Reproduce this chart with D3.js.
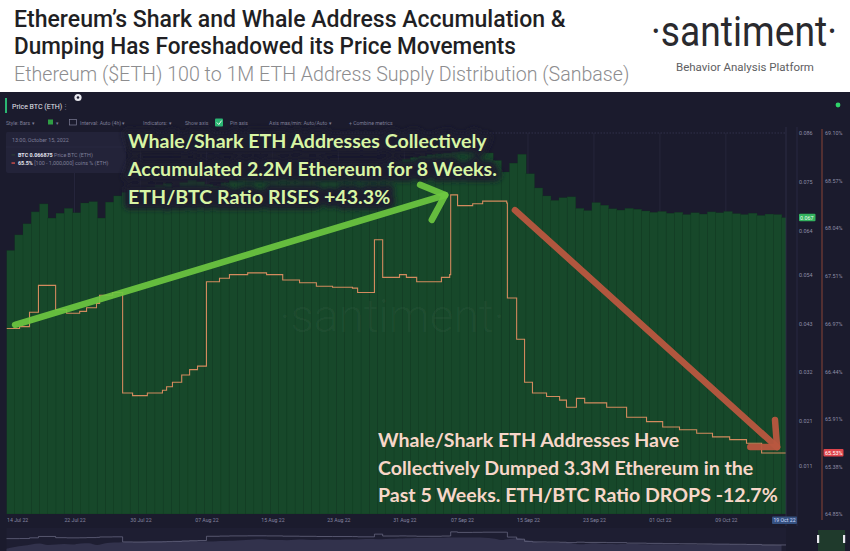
<!DOCTYPE html>
<html><head><meta charset="utf-8">
<script src="https://cdn.jsdelivr.net/npm/d3@7"></script>
<style>
html,body{margin:0;padding:0;background:#fff;}
svg{display:block;}
</style></head><body>
<svg id="c" width="850" height="551"></svg>
<script>
// ---------------- DATA ----------------
const priceStart = "2022-07-14T00";
// daily ETH price in BTC (bars)
const priceValues = [
0.0595,0.0630,0.0655,0.0682,0.0700,0.0668,0.0679,0.0690,0.0680,0.0702,
0.0705,0.0668,0.0704,0.0718,0.0726,0.0731,0.0728,0.0738,0.0742,0.0746,
0.0736,0.0748,0.0755,0.0750,0.0744,0.0740,0.0748,0.0753,0.0761,0.0768,
0.0778,0.0785,0.0772,0.0770,0.0766,0.0774,0.0778,0.0770,0.0775,0.0781,
0.0776,0.0782,0.0778,0.0785,0.0790,0.0786,0.0792,0.0796,0.0800,0.0805,
0.0808,0.0811,0.0813,0.0815,0.0818,0.0822,0.0821,0.0818,0.0815,0.0798,
0.0772,0.0792,0.0812,0.0768,0.0736,0.0718,0.0708,0.0714,0.0716,0.0690,
0.0685,0.0703,0.0697,0.0689,0.0686,0.0690,0.0688,0.0684,0.0681,0.0683,
0.0679,0.0681,0.0676,0.0680,0.0677,0.0682,0.0680,0.0683,0.0678,0.0676,
0.0679,0.0674,0.0677,0.0676,0.0669];
const lastPrice = 0.066875;

// supply held by 100 - 1,000,000 ETH addresses (%), step changes
const supplyTimes = ["2022-07-14T00","2022-07-15T14","2022-07-16T19","2022-07-17T21","2022-07-19T23","2022-07-21T07","2022-07-22T21","2022-07-23T17","2022-07-24T22","2022-07-25T07","2022-07-26T21","2022-07-28T02","2022-07-29T07","2022-07-31T02","2022-08-01T22","2022-08-02T10","2022-08-03T03","2022-08-04T06","2022-08-05T05","2022-08-06T04","2022-08-07T06","2022-08-08T20","2022-08-10T01","2022-08-12T06","2022-08-14T13","2022-08-16T12","2022-08-18T13","2022-08-20T14","2022-08-22T13","2022-08-24T23","2022-08-25T14","2022-08-27T15","2022-08-28T15","2022-08-30T16","2022-08-31T12","2022-09-01T18","2022-09-04T18","2022-09-05T18","2022-09-05T21","2022-09-06T17","2022-09-08T13","2022-09-09T18","2022-09-12T16","2022-09-12T18","2022-09-13T21","2022-09-14T20","2022-09-15T19","2022-09-17T12","2022-09-19T02","2022-09-19T22","2022-09-21T03","2022-09-22T03","2022-09-24T19","2022-09-27T05","2022-09-29T15","2022-10-01T14","2022-10-03T15","2022-10-05T17","2022-10-07T15","2022-10-09T17","2022-10-11T18","2022-10-13T14","2022-10-16T13"];
const supplyValues = [66.92,66.94,67.10,67.40,67.13,67.09,67.11,67.15,67.20,67.29,67.32,66.20,66.17,66.20,66.23,66.27,66.32,66.40,66.46,66.50,67.44,67.48,67.52,67.54,67.52,67.46,67.43,67.39,67.38,67.37,67.32,67.91,67.49,67.52,67.49,67.44,67.49,67.52,68.41,68.29,68.31,68.34,68.32,67.26,66.80,66.32,66.20,66.16,66.12,66.04,66.14,66.09,66.04,65.93,65.88,65.82,65.79,65.75,65.71,65.68,65.64,65.53,65.53];
const lastSupply = 65.53;

const xDomain = ["2022-07-14T00","2022-10-16T13"];
const xTickDates = ["2022-07-14T06","2022-07-22T06","2022-07-30T06","2022-08-07T06","2022-08-15T06","2022-08-23T06","2022-08-31T06","2022-09-07T06","2022-09-15T06","2022-09-23T06","2022-10-01T06","2022-10-09T06"];
const xTickLabels = ["14 Jul 22","22 Jul 22","30 Jul 22","07 Aug 22","15 Aug 22","23 Aug 22","31 Aug 22","07 Sep 22","15 Sep 22","23 Sep 22","01 Oct 22","09 Oct 22"];
const crossDateLabel = "19 Oct 22";
const leftDomain = [0, 0.086];
const leftTicks = [0.011,0.021,0.032,0.043,0.054,0.064,0.075,0.086];
const rightDomain = [64.85, 69.10];
const rightTicks = [64.85,65.38,65.91,66.44,66.97,67.51,68.04,68.57,69.10];

const titleLines = ["Ethereum\u2019s Shark and Whale Address Accumulation &","Dumping Has Foreshadowed its Price Movements"];
const subtitle = "Ethereum ($ETH) 100 to 1M ETH Address Supply Distribution (Sanbase)";
const upText = ["Whale/Shark ETH Addresses Collectively","Accumulated 2.2M Ethereum for 8 Weeks.","ETH/BTC Ratio RISES +43.3%"];
const downText = ["Whale/Shark ETH Addresses Have","Collectively Dumped 3.3M Ethereum in the","Past 5 Weeks. ETH/BTC Ratio DROPS -12.7%"];

// annotation arrows, anchored in data units (date, BTC price)
const upArrow = {from:["2022-07-15T01",0.0427], to:["2022-09-05T05",0.0720], arms:[["2022-09-02T04",0.0743],["2022-09-03T14",0.0664]]};
const downArrow = {from:["2022-09-13T16",0.0686], to:["2022-10-15T11",0.0151], arms:[["2022-10-15T05",0.0212],["2022-10-12T05",0.0151]]};

// ---------------- CHART ----------------
const parse = d3.utcParse("%Y-%m-%dT%H");
const svg = d3.select("#c");
const W = 850, H = 551;
const panelTop = 92, plotL = 6.5, plotR = 786, plotT = 133, plotB = 514;

svg.append("rect").attr("width",W).attr("height",H).attr("fill","#ffffff");

// fit a text horizontally to a target width by scaling (condensed look)
function fitText(g, str, x0, y0, size, weight, fill, target, family){
  const t = g.append("text").attr("font-family",family).attr("font-size",size)
    .attr("font-weight",weight).attr("fill",fill).text(str);
  const w = t.node().getComputedTextLength();
  const sx = target / w;
  t.attr("transform",`translate(${x0},${y0}) scale(${sx},1)`);
  return t;
}

// header
const hdr = svg.append("g");
const fam = "Roboto, 'Open Sans', sans-serif";
fitText(hdr, titleLines[0], 14, 27, 23, 500, "#1f1f24", 552, fam);
fitText(hdr, titleLines[1], 14, 54, 23, 500, "#1f1f24", 502, fam);
fitText(hdr, subtitle, 14, 81, 20, 300, "#8d8d8f", 616, fam);
fitText(hdr, "\u00B7santiment\u00B7", 651, 46, 43, 400, "#2a2a2e", 186, fam);
fitText(hdr, "Behavior Analysis Platform", 676, 71, 11, 400, "#5e5e62", 138, fam);

// dark panel
svg.append("rect").attr("x",0).attr("y",panelTop).attr("width",W).attr("height",H-panelTop).attr("fill","#1b1b2d");

// scales
const x = d3.scaleUtc().domain(xDomain.map(parse)).range([plotL, plotR]);
const yL = d3.scaleLinear().domain(leftDomain).range([plotB, plotT]);
const yR = d3.scaleLinear().domain(rightDomain).range([plotB, plotT]);

const defs = svg.append("defs");
defs.append("clipPath").attr("id","plotclip").append("rect")
  .attr("x",plotL).attr("y",panelTop).attr("width",plotR-plotL).attr("height",plotB-panelTop);
const blur = defs.append("filter").attr("id","halo").attr("x","-10%").attr("y","-40%").attr("width","120%").attr("height","180%");
blur.append("feGaussianBlur").attr("stdDeviation",2.6);

// top toolbar
const ui = svg.append("g").attr("font-family","Roboto, sans-serif");
ui.append("rect").attr("x",5).attr("y",98).attr("width",2).attr("height",15).attr("fill","#2bb673");
ui.append("text").attr("x",12).attr("y",108.5).attr("font-size",7).attr("fill","#e6e6ee").text("Price BTC (ETH)");
ui.append("text").attr("x",62).attr("y",108.5).attr("font-size",7).attr("fill","#6c6c84").text("\u22EE");
ui.append("circle").attr("cx",78).attr("cy",97.5).attr("r",3.6).attr("fill","#e8e8ee");
ui.append("circle").attr("cx",78).attr("cy",97.5).attr("r",1.3).attr("fill","#1b1b2d");
ui.append("circle").attr("cx",838).attr("cy",105).attr("r",2.4).attr("fill","#2fd46a");
const tb = ui.append("g").attr("font-size",5.2).attr("fill","#7d7d96");
tb.append("text").attr("x",6).attr("y",125).text("Style: Bars  \u25BE");
tb.append("rect").attr("x",48).attr("y",119.5).attr("width",5).attr("height",5).attr("fill","#2f9e44");
tb.append("text").attr("x",56).attr("y",125).text("\u25BE");
tb.append("rect").attr("x",69.5).attr("y",119.5).attr("width",7).attr("height",5.5).attr("fill","none").attr("stroke","#7d7d96").attr("stroke-width",0.7);
tb.append("text").attr("x",80).attr("y",125).text("Interval: Auto (4h)  \u25BE");
tb.append("text").attr("x",143).attr("y",125).text("Indicators:  \u25BE");
tb.append("text").attr("x",185).attr("y",125).text("Show axis");
tb.append("rect").attr("x",215).attr("y",118.5).attr("width",8).attr("height",8).attr("rx",1).attr("fill","#2bb673");
tb.append("path").attr("d","M216.8,122.5 L218.8,124.5 L221.6,120.6").attr("fill","none").attr("stroke","#fff").attr("stroke-width",0.9);
tb.append("text").attr("x",230).attr("y",125).text("Pin axis");
tb.append("text").attr("x",269).attr("y",125).text("Axis max/min: Auto/Auto  \u25BE");
tb.append("text").attr("x",349).attr("y",125).text("+  Combine metrics");

// vertical grid lines (behind bars)
const grid = svg.append("g").attr("clip-path","url(#plotclip)");
grid.selectAll("line.vg").data(xTickDates.slice(1)).join("line")
  .attr("x1",d=>x(parse(d))).attr("x2",d=>x(parse(d))).attr("y1",plotT).attr("y2",plotB)
  .attr("stroke","#28283f").attr("stroke-width",0.8);
grid.append("line").attr("x1",plotL).attr("x2",plotR).attr("y1",yL(leftTicks[leftTicks.length-1])).attr("y2",yL(leftTicks[leftTicks.length-1]))
  .attr("stroke","#3a3a56").attr("stroke-width",0.7).attr("stroke-dasharray","1.5,1.5");

// price bars
const t0 = parse(priceStart);
const priceData = priceValues.map((v,i)=>({t:d3.utcDay.offset(t0,i), v}));
const plot = svg.append("g").attr("clip-path","url(#plotclip)");
plot.selectAll("rect.bar").data(priceData).join("rect").attr("class","bar")
  .attr("x",d=>x(d.t)).attr("width",d=>x(d3.utcDay.offset(d.t,1))-x(d.t)+0.3)
  .attr("y",d=>yL(d.v)).attr("height",d=>plotB-yL(d.v))
  .attr("fill","#17482a").attr("stroke","#10361f").attr("stroke-width",0.45).attr("stroke-opacity",0.55);

// watermark
svg.append("text").attr("x",392).attr("y",332).attr("text-anchor","middle").attr("font-family","Roboto, sans-serif")
  .attr("font-size",46).attr("font-weight",300).attr("fill","#ffffff").attr("fill-opacity",0.04).text("\u00B7santiment\u00B7");

// supply line
const supplyData = supplyTimes.map((t,i)=>({t:parse(t), v:supplyValues[i]})).filter(d=>d.v!=null);
plot.append("path").datum(supplyData)
  .attr("d",d3.line().curve(d3.curveStepAfter).x(d=>x(d.t)).y(d=>yR(d.v)))
  .attr("fill","none").attr("stroke","#d38a5e").attr("stroke-width",1.1);

// axis lines on right
svg.append("line").attr("x1",plotR).attr("x2",plotR).attr("y1",panelTop+35).attr("y2",plotB+12).attr("stroke","#30304a").attr("stroke-width",0.8);
svg.append("line").attr("x1",797).attr("x2",797).attr("y1",panelTop+35).attr("y2",plotB+12).attr("stroke","#2c2c46").attr("stroke-width",0.8);
svg.append("line").attr("x1",822).attr("x2",822).attr("y1",129).attr("y2",plotB+6).attr("stroke","#8a4436").attr("stroke-width",1);

// left (price) axis
const axL = svg.append("g").attr("transform",`translate(799,0)`)
  .call(d3.axisRight(yL).tickValues(leftTicks).tickSize(0).tickPadding(0).tickFormat(d3.format(".3f")));
axL.select(".domain").remove();
axL.selectAll("text").attr("font-family","Roboto, sans-serif").attr("font-size",5.4).attr("fill","#8e8ea6");
// right (supply) axis
const axR = svg.append("g").attr("transform",`translate(825,0)`)
  .call(d3.axisRight(yR).tickValues(rightTicks).tickSize(0).tickPadding(0).tickFormat(d=>d.toFixed(2)+"%"));
axR.select(".domain").remove();
axR.selectAll("text").attr("font-family","Roboto, sans-serif").attr("font-size",5.4).attr("fill","#8e8ea6");

// last value labels
const lp = svg.append("g").attr("font-family","Roboto, sans-serif").attr("font-size",5.4);
lp.append("rect").attr("x",799).attr("y",yL(lastPrice)-4).attr("width",16.5).attr("height",7.5).attr("rx",1).attr("fill","#33b25e");
lp.append("text").attr("x",800).attr("y",yL(lastPrice)+1.9).attr("fill","#eaffef").text(d3.format(".3f")(lastPrice));
lp.append("rect").attr("x",823.5).attr("y",yR(lastSupply)-4).attr("width",20).attr("height",7.5).attr("rx",1).attr("fill","#e0454c");
lp.append("text").attr("x",825).attr("y",yR(lastSupply)+1.9).attr("fill","#ffffff").text(lastSupply.toFixed(2)+"%");

// x axis
const axX = svg.append("g").attr("transform",`translate(0,${plotB+4})`)
  .call(d3.axisBottom(x).tickValues(xTickDates.map(parse)).tickSize(0).tickPadding(0).tickFormat((d,i)=>xTickLabels[i]));
axX.select(".domain").remove();
axX.selectAll("text").attr("font-family","Roboto, sans-serif").attr("font-size",5.2).attr("fill","#8585a0");
axX.selectAll(".tick").filter((d,i)=>i===0).select("text").attr("text-anchor","start").attr("x",plotL-x(parse(xTickDates[0])));
svg.append("rect").attr("x",772).attr("y",516.5).attr("width",25).attr("height",7.5).attr("rx",1).attr("fill","#34507f");
svg.append("text").attr("x",784.5).attr("y",522.2).attr("text-anchor","middle").attr("font-family","Roboto, sans-serif")
  .attr("font-size",5.2).attr("fill","#cfdcff").text(crossDateLabel);

// navigator
const nav = svg.append("g");
nav.append("rect").attr("x",plotL).attr("y",528).attr("width",plotR-plotL).attr("height",23).attr("fill","#1e1e32");
const nyP = d3.scaleLinear().domain([0.055,0.085]).range([551,536]);
const nyS = d3.scaleLinear().domain([65.3,68.6]).range([546,531]);
nav.append("path").datum(priceData)
  .attr("d",d3.area().curve(d3.curveMonotoneX).x(d=>x(d.t)).y0(551).y1(d=>nyP(d.v)))
  .attr("fill","#32324c");
nav.append("path").datum(supplyData)
  .attr("d",d3.line().curve(d3.curveStepAfter).x(d=>x(d.t)).y(d=>nyS(d.v)))
  .attr("fill","none").attr("stroke","#6e6e88").attr("stroke-width",0.7);
nav.append("rect").attr("x",818).attr("y",530).attr("width",27).attr("height",21).attr("fill","#1f3a2c");
nav.append("rect").attr("x",817).attr("y",535).attr("width",2.2).attr("height",8).attr("fill","#e8e8ee");
nav.append("rect").attr("x",843).attr("y",535).attr("width",2.2).attr("height",8).attr("fill","#e8e8ee");

// legend box
const lg = svg.append("g").attr("font-family","Roboto, sans-serif").attr("font-size",5.4);
lg.append("rect").attr("x",6).attr("y",132).attr("width",120).attr("height",41).attr("rx",2).attr("fill","#232339");
lg.append("text").attr("x",12).attr("y",141.5).attr("fill","#7e7e98").text("13:00, October 15, 2022");
lg.append("line").attr("x1",6).attr("x2",126).attr("y1",147).attr("y2",147).attr("stroke","#2c2c44").attr("stroke-width",0.6);
lg.append("rect").attr("x",11.5).attr("y",154.2).attr("width",3.5).attr("height",1.3).attr("fill","#2a3a35");
const r1 = lg.append("text").attr("x",18).attr("y",157);
r1.append("tspan").attr("fill","#e4e4ee").attr("font-weight",700).text("BTC 0.066875 ");
r1.append("tspan").attr("fill","#7e7e98").text("Price BTC (ETH)");
lg.append("rect").attr("x",11.5).attr("y",162.4).attr("width",3.5).attr("height",1.3).attr("fill","#e0544c");
const r2 = lg.append("text").attr("x",18).attr("y",165);
r2.append("tspan").attr("fill","#e4e4ee").attr("font-weight",700).text("65.5% ");
r2.append("tspan").attr("fill","#7e7e98").text("[100 - 1,000,000] coins % (ETH)");

// annotation text blocks
function fitSize(lines, idx, target){
  const base = 20;
  const t = svg.append("text").attr("font-family","Lato, sans-serif").attr("font-weight",700).attr("font-size",base).text(lines[idx]);
  const w = t.node().getComputedTextLength(); t.remove();
  return base*target/w;
}
const upSize = fitSize(upText,1,369);
const downSize = fitSize(downText,2,400);

function haloBlock(lines, x0, y0, dy, size, halo){
  svg.append("g").attr("font-family","Lato, sans-serif").attr("font-weight",700).attr("font-size",size)
    .attr("filter","url(#halo)").selectAll("text").data(lines).join("text")
    .attr("x",x0).attr("y",(d,i)=>y0+i*dy).attr("fill",halo).attr("stroke",halo)
    .attr("stroke-width",11).attr("stroke-linejoin","round").text(d=>d);
}
haloBlock(upText,128,148,28,upSize,"#1b1b2d");

// arrows
function drawArrow(a, color, width, opacity){
  const P = p=>[x(parse(p[0])), yL(p[1])];
  const g = svg.append("g").attr("fill","none").attr("stroke",color).attr("stroke-width",width)
    .attr("stroke-linecap","round").attr("stroke-linejoin","round").attr("stroke-opacity",opacity);
  g.append("path").attr("d",d3.line()([P(a.from),P(a.to)]));
  g.append("path").attr("d",d3.line()([P(a.arms[0]),P(a.to),P(a.arms[1])]));
}
drawArrow(upArrow,"#6cc740",6.5,0.92);
drawArrow(downArrow,"#b9573f",6.5,0.95);

// text on top
function texts(lines,x0,y0,dy,size,fill){
  svg.append("g").attr("font-family","Lato, sans-serif").attr("font-weight",700).attr("font-size",size)
    .selectAll("text").data(lines).join("text").attr("x",x0).attr("y",(d,i)=>y0+i*dy).attr("fill",fill).text(d=>d);
}
texts(upText,128,148,28,upSize,"#d8f5a4");
texts(downText,378,447,27.5,downSize,"#f7d7c9");
</script>
</body></html>
